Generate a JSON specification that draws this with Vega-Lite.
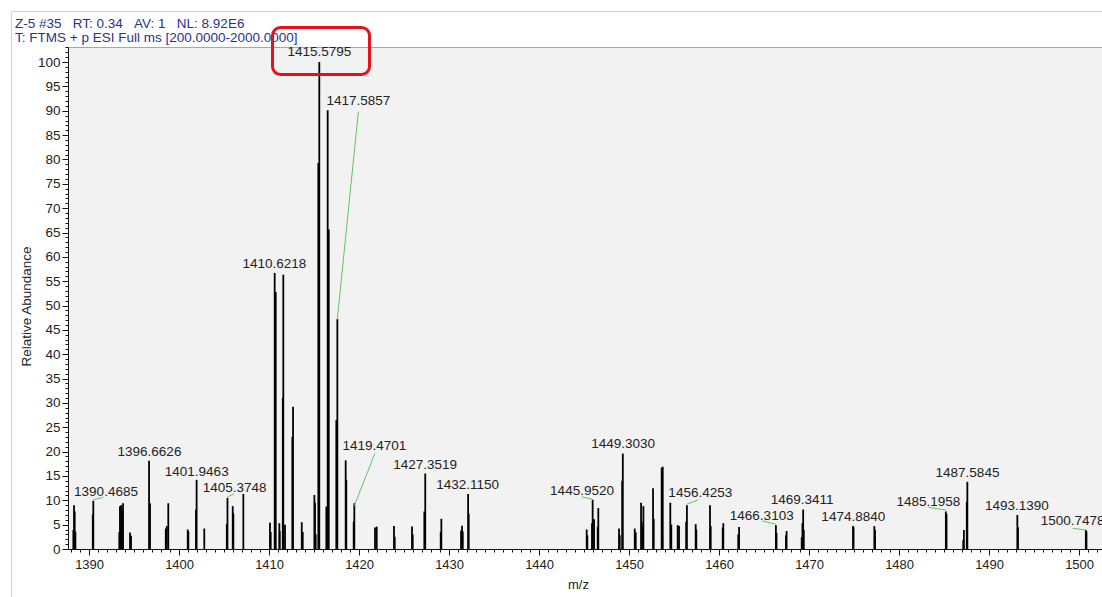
{
  "$schema": "https://vega.github.io/schema/vega-lite/v6.json",
  "width": 1034,
  "height": 502,
  "autosize": {"type": "none"},
  "padding": {"left": 68, "top": 47, "right": 0, "bottom": 48},
  "background": "white",
  "config": {
    "view": {"stroke": null, "fill": "#f2f2f2"},
    "font": "Liberation Sans",
    "axis": {"labelFont": "Liberation Sans", "titleFont": "Liberation Sans", "labelColor": "#222222", "titleColor": "#222222", "tickColor": "#111111", "domainColor": "#111111", "grid": false, "titleFontWeight": "normal"}
  },
  "datasets": {
    "peaks": [
      {"mz": 1388.25, "abundance": 3.9}, {"mz": 1388.33, "abundance": 9.0}, {"mz": 1388.40, "abundance": 7.7}, {"mz": 1388.48, "abundance": 3.6},
      {"mz": 1390.41, "abundance": 7.1}, {"mz": 1390.4685, "abundance": 9.9},
      {"mz": 1393.36, "abundance": 3.5}, {"mz": 1393.43, "abundance": 8.8}, {"mz": 1393.55, "abundance": 9.0}, {"mz": 1393.69, "abundance": 7.9}, {"mz": 1393.77, "abundance": 9.4},
      {"mz": 1394.55, "abundance": 3.4}, {"mz": 1394.66, "abundance": 2.7},
      {"mz": 1396.6626, "abundance": 18.1}, {"mz": 1396.77, "abundance": 9.4},
      {"mz": 1398.52, "abundance": 4.2}, {"mz": 1398.63, "abundance": 4.7}, {"mz": 1398.80, "abundance": 9.4},
      {"mz": 1400.96, "abundance": 4.0}, {"mz": 1401.03, "abundance": 3.6},
      {"mz": 1401.88, "abundance": 8.1}, {"mz": 1401.9463, "abundance": 14.2},
      {"mz": 1402.80, "abundance": 4.2},
      {"mz": 1405.30, "abundance": 5.1}, {"mz": 1405.3748, "abundance": 10.5},
      {"mz": 1405.96, "abundance": 8.8}, {"mz": 1406.03, "abundance": 7.3},
      {"mz": 1407.14, "abundance": 11.3},
      {"mz": 1410.10, "abundance": 5.4}, {"mz": 1410.18, "abundance": 3.5},
      {"mz": 1410.6218, "abundance": 56.7}, {"mz": 1410.74, "abundance": 52.8},
      {"mz": 1411.14, "abundance": 5.3}, {"mz": 1411.18, "abundance": 3.7},
      {"mz": 1411.52, "abundance": 31.0}, {"mz": 1411.58, "abundance": 56.3}, {"mz": 1411.77, "abundance": 5.0},
      {"mz": 1412.58, "abundance": 23.0}, {"mz": 1412.66, "abundance": 29.2},
      {"mz": 1413.63, "abundance": 5.5}, {"mz": 1413.74, "abundance": 3.5},
      {"mz": 1415.03, "abundance": 11.1}, {"mz": 1415.10, "abundance": 9.5}, {"mz": 1415.18, "abundance": 3.0},
      {"mz": 1415.47, "abundance": 79.3}, {"mz": 1415.5795, "abundance": 100},
      {"mz": 1416.36, "abundance": 8.7}, {"mz": 1416.44, "abundance": 5.8}, {"mz": 1416.51, "abundance": 90.1}, {"mz": 1416.63, "abundance": 65.6},
      {"mz": 1417.47, "abundance": 26.5}, {"mz": 1417.5857, "abundance": 47.2},
      {"mz": 1418.51, "abundance": 18.2}, {"mz": 1418.58, "abundance": 14.2},
      {"mz": 1419.40, "abundance": 5.6}, {"mz": 1419.4701, "abundance": 9.4},
      {"mz": 1421.77, "abundance": 4.4}, {"mz": 1421.96, "abundance": 4.6},
      {"mz": 1423.88, "abundance": 4.7}, {"mz": 1423.96, "abundance": 2.5},
      {"mz": 1425.88, "abundance": 4.6}, {"mz": 1425.96, "abundance": 3.0},
      {"mz": 1427.25, "abundance": 7.7}, {"mz": 1427.3519, "abundance": 15.5},
      {"mz": 1429.07, "abundance": 3.5}, {"mz": 1429.14, "abundance": 6.2},
      {"mz": 1431.33, "abundance": 3.8}, {"mz": 1431.44, "abundance": 4.8}, {"mz": 1431.52, "abundance": 3.6},
      {"mz": 1432.1150, "abundance": 11.3}, {"mz": 1432.18, "abundance": 7.3},
      {"mz": 1445.29, "abundance": 4.0}, {"mz": 1445.36, "abundance": 2.8},
      {"mz": 1445.88, "abundance": 5.3}, {"mz": 1445.9520, "abundance": 10.1}, {"mz": 1446.11, "abundance": 6.1},
      {"mz": 1446.51, "abundance": 4.6}, {"mz": 1446.58, "abundance": 8.4},
      {"mz": 1448.88, "abundance": 4.2}, {"mz": 1448.96, "abundance": 2.8},
      {"mz": 1449.23, "abundance": 14.0}, {"mz": 1449.3030, "abundance": 19.6},
      {"mz": 1450.63, "abundance": 4.2}, {"mz": 1450.74, "abundance": 3.4},
      {"mz": 1451.33, "abundance": 9.5}, {"mz": 1451.41, "abundance": 5.6}, {"mz": 1451.48, "abundance": 4.6}, {"mz": 1451.59, "abundance": 8.8},
      {"mz": 1452.66, "abundance": 12.5}, {"mz": 1452.74, "abundance": 6.2},
      {"mz": 1453.62, "abundance": 16.7}, {"mz": 1453.68, "abundance": 3.0}, {"mz": 1453.74, "abundance": 16.9},
      {"mz": 1454.58, "abundance": 9.5}, {"mz": 1454.69, "abundance": 5.0},
      {"mz": 1455.40, "abundance": 4.9}, {"mz": 1455.55, "abundance": 4.7},
      {"mz": 1456.34, "abundance": 5.6}, {"mz": 1456.4253, "abundance": 9.0},
      {"mz": 1457.40, "abundance": 5.1}, {"mz": 1457.47, "abundance": 4.0},
      {"mz": 1458.99, "abundance": 9.0}, {"mz": 1459.07, "abundance": 4.7},
      {"mz": 1460.40, "abundance": 4.4}, {"mz": 1460.47, "abundance": 5.3},
      {"mz": 1462.13, "abundance": 3.0}, {"mz": 1462.22, "abundance": 4.5},
      {"mz": 1466.3103, "abundance": 4.9}, {"mz": 1466.38, "abundance": 3.3},
      {"mz": 1467.43, "abundance": 2.8}, {"mz": 1467.50, "abundance": 3.7},
      {"mz": 1469.18, "abundance": 2.4}, {"mz": 1469.26, "abundance": 5.3}, {"mz": 1469.3411, "abundance": 8.1}, {"mz": 1469.41, "abundance": 3.9},
      {"mz": 1474.8840, "abundance": 4.7}, {"mz": 1474.94, "abundance": 4.5},
      {"mz": 1477.25, "abundance": 4.7}, {"mz": 1477.33, "abundance": 3.9},
      {"mz": 1485.1958, "abundance": 7.7}, {"mz": 1485.27, "abundance": 7.2},
      {"mz": 1487.13, "abundance": 1.8}, {"mz": 1487.20, "abundance": 3.9},
      {"mz": 1487.52, "abundance": 9.7}, {"mz": 1487.5845, "abundance": 13.8},
      {"mz": 1493.1390, "abundance": 7.0}, {"mz": 1493.21, "abundance": 4.5},
      {"mz": 1500.7478, "abundance": 3.9}, {"mz": 1500.82, "abundance": 3.6}
    ],
    "labels": [
      {"text": "1390.4685", "lx": 1391.88, "ly": 11.7},
      {"text": "1396.6626", "lx": 1396.71, "ly": 19.9},
      {"text": "1401.9463", "lx": 1401.96, "ly": 15.8},
      {"text": "1405.3748", "lx": 1406.18, "ly": 12.5},
      {"text": "1410.6218", "lx": 1410.58, "ly": 58.6},
      {"text": "1415.5795", "lx": 1415.58, "ly": 102.1},
      {"text": "1417.5857", "lx": 1419.92, "ly": 92.1},
      {"text": "1419.4701", "lx": 1421.69, "ly": 21.2},
      {"text": "1427.3519", "lx": 1427.33, "ly": 17.3},
      {"text": "1432.1150", "lx": 1432.07, "ly": 13.2},
      {"text": "1445.9520", "lx": 1444.77, "ly": 11.9},
      {"text": "1449.3030", "lx": 1449.33, "ly": 21.6},
      {"text": "1456.4253", "lx": 1457.91, "ly": 11.5},
      {"text": "1466.3103", "lx": 1464.74, "ly": 6.8},
      {"text": "1469.3411", "lx": 1469.22, "ly": 10.1},
      {"text": "1474.8840", "lx": 1474.91, "ly": 6.6},
      {"text": "1485.1958", "lx": 1483.25, "ly": 9.65},
      {"text": "1487.5845", "lx": 1487.60, "ly": 15.65},
      {"text": "1493.1390", "lx": 1493.08, "ly": 8.9},
      {"text": "1500.7478", "lx": 1499.29, "ly": 5.7}
    ],
    "leaders": [
      {"peak": "1390.4685", "x1": 1390.4685, "y1": 10.1, "x2": 1391.58, "y2": 10.6},
      {"peak": "1405.3748", "x1": 1405.3748, "y1": 10.7, "x2": 1406.10, "y2": 11.3},
      {"peak": "1417.5857", "x1": 1417.5857, "y1": 47.3, "x2": 1419.92, "y2": 89.8},
      {"peak": "1419.4701", "x1": 1419.4701, "y1": 8.9, "x2": 1421.77, "y2": 19.7},
      {"peak": "1445.9520", "x1": 1444.74, "y1": 10.7, "x2": 1445.9520, "y2": 10.2},
      {"peak": "1456.4253", "x1": 1456.4253, "y1": 9.2, "x2": 1457.69, "y2": 10.1},
      {"peak": "1466.3103", "x1": 1464.80, "y1": 5.75, "x2": 1466.3103, "y2": 5.1},
      {"peak": "1485.1958", "x1": 1483.25, "y1": 8.56, "x2": 1485.1958, "y2": 8.0},
      {"peak": "1500.7478", "x1": 1499.29, "y1": 4.25, "x2": 1500.7478, "y2": 3.9}
    ]
  },
  "layer": [
    {
      "data": {"values": [{}]},
      "mark": {"type": "rect", "filled": false, "stroke": "#cfcfcf", "strokeWidth": 1},
      "encoding": {
        "x": {"datum": 1381.38, "type": "quantitative", "scale": {"domain": [1387.657, 1502.546], "nice": false, "zero": false}, "axis": null},
        "x2": {"datum": 1515},
        "y": {"datum": 110.4, "type": "quantitative", "scale": {"domain": [0, 103.1], "nice": false, "zero": false}, "axis": null},
        "y2": {"datum": -15}
      }
    },
    {
      "data": {"values": [{}]},
      "mark": {"type": "text", "text": "Z-5 #35\u00a0\u00a0\u00a0RT: 0.34\u00a0\u00a0\u00a0AV: 1\u00a0\u00a0\u00a0NL: 8.92E6", "fontSize": 13.5, "color": "#27348b", "align": "left", "baseline": "alphabetic", "font": "Liberation Sans"},
      "encoding": {
        "x": {"datum": 1381.77, "type": "quantitative", "scale": {"domain": [1387.657, 1502.546], "nice": false, "zero": false}, "axis": null},
        "y": {"datum": 107.0, "type": "quantitative", "scale": {"domain": [0, 103.1], "nice": false, "zero": false}, "axis": null}
      }
    },
    {
      "data": {"values": [{}]},
      "mark": {"type": "text", "text": "T: FTMS + p ESI Full ms [200.0000-2000.0000]", "fontSize": 13.5, "color": "#27348b", "align": "left", "baseline": "alphabetic", "font": "Liberation Sans"},
      "encoding": {
        "x": {"datum": 1381.77, "type": "quantitative", "scale": {"domain": [1387.657, 1502.546], "nice": false, "zero": false}, "axis": null},
        "y": {"datum": 104.2, "type": "quantitative", "scale": {"domain": [0, 103.1], "nice": false, "zero": false}, "axis": null}
      }
    },
    {
      "data": {"name": "peaks"},
      "mark": {"type": "rule", "color": "#000000", "strokeWidth": 1.8},
      "encoding": {
        "x": {"field": "mz", "type": "quantitative", "scale": {"domain": [1387.657, 1502.546], "nice": false, "zero": false},
          "axis": {"orient": "bottom", "tickCount": 12, "format": "d", "tickSize": 6, "labelFontSize": 13, "labelPadding": 3, "labelFlush": false, "title": "m/z", "titleFontSize": 13, "titleX": 510, "titleY": 35, "titleBaseline": "middle", "titleAlign": "center"}},
        "y": {"field": "abundance", "type": "quantitative", "scale": {"domain": [0, 103.1], "nice": false, "zero": false},
          "axis": {"orient": "left", "tickCount": 21, "format": "d", "tickSize": 6, "labelFontSize": 13.5, "labelPadding": 2, "labelFlush": false, "title": "Relative Abundance", "titleFontSize": 13.5, "titleX": -42, "titleY": 259, "titleAngle": -90, "titleBaseline": "middle", "titleAlign": "center"}},
        "y2": {"datum": 0}
      }
    },
    {
      "data": {"name": "labels"},
      "mark": {"type": "text", "fontSize": 13.5, "color": "#222222", "align": "center", "baseline": "middle", "font": "Liberation Sans"},
      "encoding": {
        "x": {"field": "lx", "type": "quantitative", "scale": {"domain": [1387.657, 1502.546], "nice": false, "zero": false},
          "axis": {"orient": "bottom", "tickCount": 116, "tickSize": 3, "labels": false, "domain": false, "title": null}},
        "y": {"field": "ly", "type": "quantitative", "scale": {"domain": [0, 103.1], "nice": false, "zero": false},
          "axis": {"orient": "left", "tickCount": 103, "tickSize": 3, "labels": false, "domain": false, "title": null}},
        "text": {"field": "text"}
      }
    },
    {
      "data": {"name": "leaders"},
      "mark": {"type": "rule", "color": "#62c462", "strokeWidth": 1},
      "encoding": {
        "x": {"field": "x1", "type": "quantitative", "scale": {"domain": [1387.657, 1502.546], "nice": false, "zero": false},
          "axis": {"orient": "top", "domain": true, "domainColor": "#a8a8a8", "ticks": false, "labels": false, "title": null}},
        "x2": {"field": "x2"},
        "y": {"field": "y1", "type": "quantitative", "scale": {"domain": [0, 103.1], "nice": false, "zero": false}, "axis": null},
        "y2": {"field": "y2"}
      }
    },
    {
      "data": {"values": [{}]},
      "mark": {"type": "rect", "filled": false, "stroke": "#e3121b", "strokeWidth": 3, "cornerRadius": 8},
      "encoding": {
        "x": {"datum": 1410.38, "type": "quantitative", "scale": {"domain": [1387.657, 1502.546], "nice": false, "zero": false}, "axis": null},
        "x2": {"datum": 1421.16},
        "y": {"datum": 107.1, "type": "quantitative", "scale": {"domain": [0, 103.1], "nice": false, "zero": false}, "axis": null},
        "y2": {"datum": 97.45}
      }
    }
  ],
  "resolve": {"axis": {"x": "independent", "y": "independent"}}
}
